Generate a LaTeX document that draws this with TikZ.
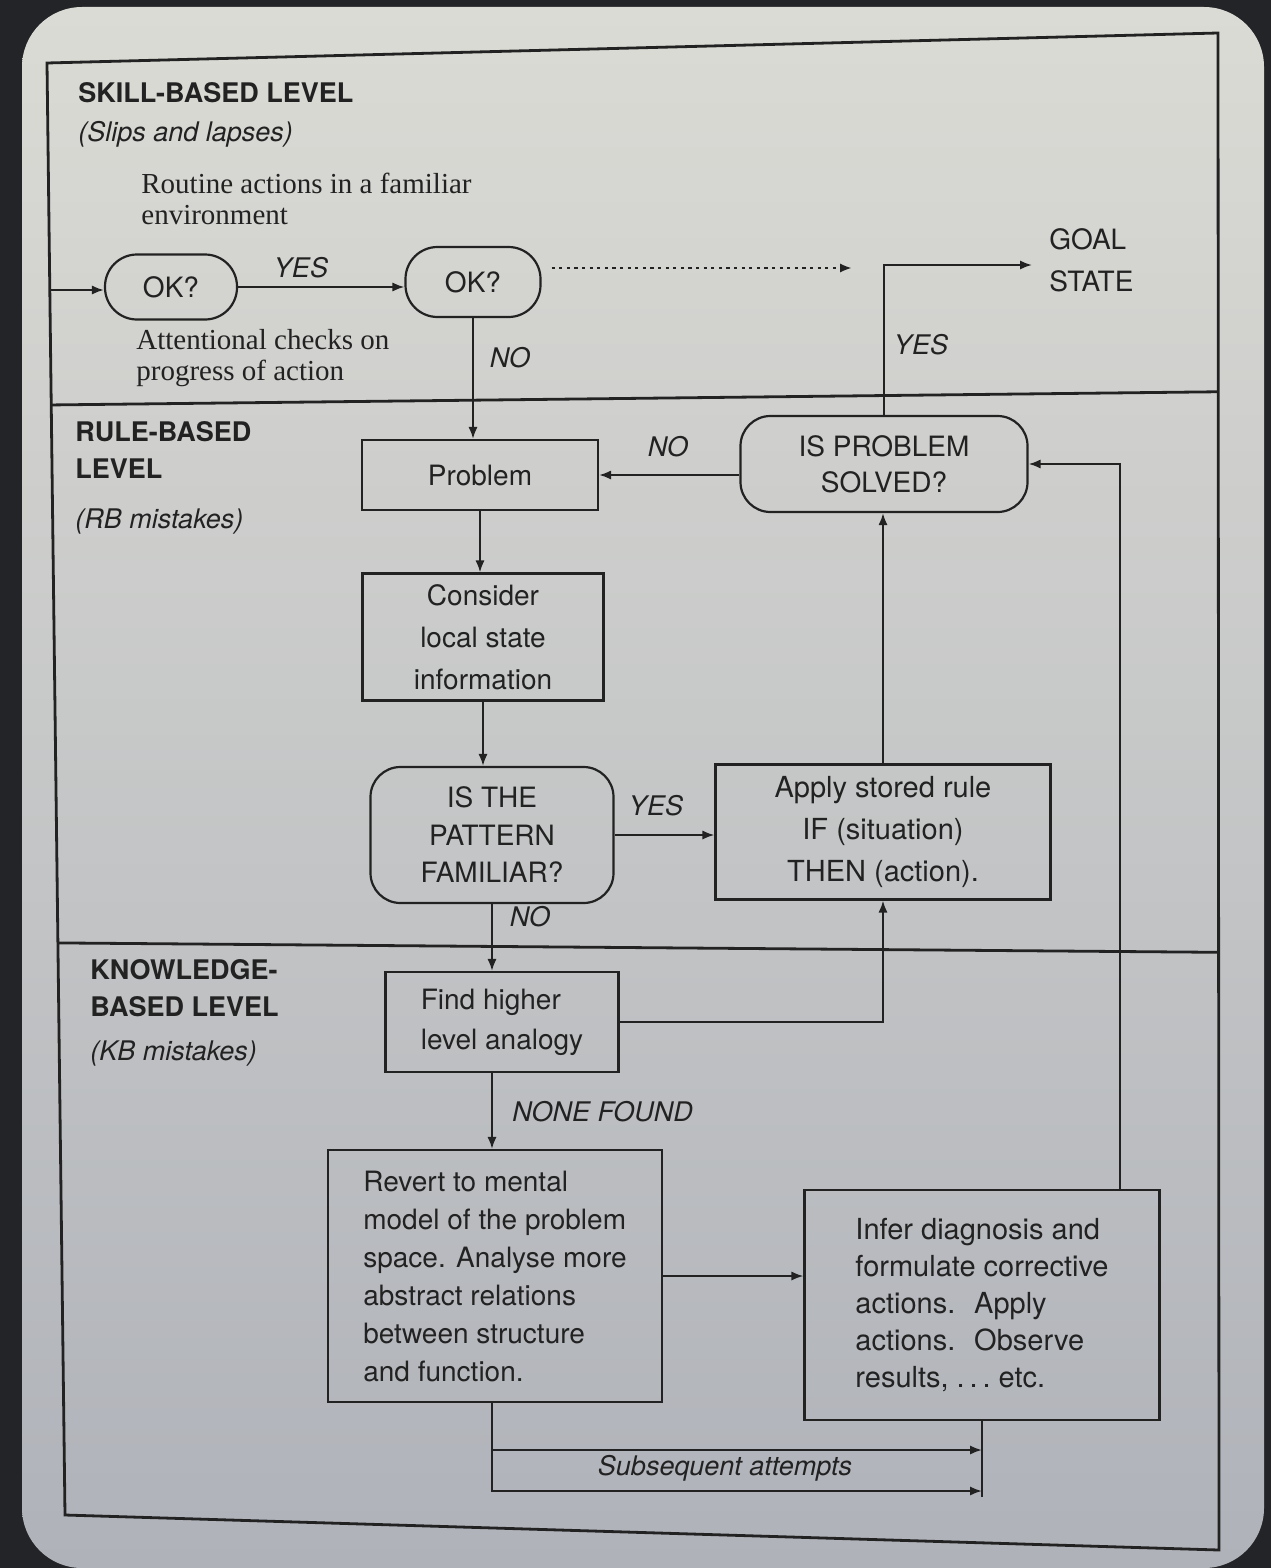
\documentclass[tikz,border=0pt]{standalone}
\usepackage{fontspec}
\setmainfont{TeX Gyre Heros}
\newfontfamily\bookfont{Liberation Serif}
\usetikzlibrary{arrows.meta,positioning,calc}
\definecolor{ink}{HTML}{222222}
\definecolor{desk}{HTML}{232427}
\definecolor{pagetop}{HTML}{DBDBD5}
\definecolor{pagebot}{HTML}{AFB2B9}

\tikzset{
    frame/.style={draw=ink, line width=1.4pt},
    box/.style={draw=ink, line width=1.1pt, rectangle, inner sep=0pt, align=center, text=ink,
                font=\fontsize{14}{19}\selectfont},
    askbox/.style={box, rounded corners=15pt},
    lvl/.style={anchor=north west, inner sep=0pt, align=left, text=ink,
                font=\fontsize{13.5}{18.5}\selectfont\bfseries},
    note/.style={anchor=north west, inner sep=0pt, text=ink,
                font=\fontsize{13.5}{18}\selectfont\itshape},
    tag/.style={inner sep=0pt, text=ink, font=\fontsize{13.5}{16}\selectfont\itshape},
    book/.style={anchor=north west, inner sep=0pt, align=left, text=ink,
                font=\fontsize{14.5}{15.5}\selectfont\bookfont},
    flow/.style={draw=ink, line width=1pt, -{Latex[length=6pt,width=4.6pt]}},
    link/.style={draw=ink, line width=1pt}
}

\begin{document}
\begin{tikzpicture}[x=0.5pt, y=-0.5pt]
    % Photo backdrop and page
    \useasboundingbox (0,0) rectangle (1271,1568);
    \fill[desk] (0,0) rectangle (1271,1568);
    \shade[top color=pagetop, bottom color=pagebot, rounded corners=30pt] (22,7) rectangle (1264,1568);

    % Figure frame, a little skewed as on the page
    \coordinate (F1) at (47,63);
    \coordinate (F2) at (1218,33);
    \coordinate (F3) at (1219,1550);
    \coordinate (F4) at (65,1515);
    \pgfmathsetmacro{\cutone}{0.2355}
    \pgfmathsetmacro{\cuttwo}{0.606}
    \begin{scope}[frame]
        \draw (F1) -- (F2) -- (F3) -- (F4) -- cycle;
        \draw ($(F1)!\cutone!(F4)$) -- ($(F2)!0.2365!(F3)$);
        \draw ($(F1)!\cuttwo!(F4)$) -- ($(F2)!\cuttwo!(F3)$);
    \end{scope}

    % Level headings
    \node (skill) at (78,82) [lvl] {SKILL-BASED LEVEL};
    \node (slips) at (78,121) [note] {(Slips and lapses)};
    \node (rule) at (75,421) [lvl] {RULE-BASED\\LEVEL};
    \node (rbmis) at (75,508) [note] {(RB mistakes)};
    \node (know) at (90,959) [lvl] {KNOWLEDGE-\\BASED LEVEL};
    \node (kbmis) at (90,1040) [note] {(KB mistakes)};

    % Skill-based level
    \node (routine) at (141,173) [book] {Routine actions in a familiar\\environment};
    \node (ok1) at (171,287) [askbox, minimum width=66pt, minimum height=32.5pt, rounded corners=16pt] {OK?};
    \node (ok2) at (473,282) [askbox, minimum width=67.5pt, minimum height=35pt, rounded corners=16pt] {OK?};
    \node (attn) at (136,329) [book] {Attentional checks on\\progress of action};
    \node (goalst) at (1049,228) [anchor=north west, inner sep=0pt, align=left, text=ink,
        font=\fontsize{14}{21}\selectfont] {GOAL\\STATE};

    % Rule-based level
    \node (prob) at (480,475) [box, minimum width=118pt, minimum height=35pt] {Problem};
    \node (solved) at (884,464) [askbox, minimum width=143.5pt, minimum height=48pt,
        font=\fontsize{14}{18}\selectfont] {IS PROBLEM\\SOLVED?};
    \node (consider) at (483,637) [box, minimum width=120.5pt, minimum height=63.5pt,
        font=\fontsize{14}{21}\selectfont] {Consider\\local state\\information};
    \node (pattern) at (492,835) [askbox, minimum width=121.5pt, minimum height=68pt,
        font=\fontsize{14}{18.75}\selectfont] {IS THE\\PATTERN\\FAMILIAR?};
    \node (apply) at (883,832) [box, minimum width=167.5pt, minimum height=67.5pt,
        font=\fontsize{14.5}{21}\selectfont] {Apply stored rule\\IF (situation)\\THEN (action).};

    % Knowledge-based level
    \node (find) at (502,1022) [box, align=left, minimum width=116.5pt, minimum height=50pt,
        font=\fontsize{14}{20}\selectfont] {Find higher\\level analogy};
    \node (revert) at (495,1276) [box, align=left, minimum width=167pt, minimum height=126pt]
        {Revert to mental\\model of the problem\\space. Analyse more\\abstract relations\\between structure\\and function.};
    \node (infer) at (982,1305) [box, align=left, minimum width=177.5pt, minimum height=115pt,
        font=\fontsize{14.5}{18.5}\selectfont]
        {Infer diagnosis and\\formulate corrective\\actions.~ Apply\\actions.~ Observe\\results, .\,.\,.\ etc.};

    % Free ends of connectors
    \coordinate (entry) at (49,290);
    \coordinate (dotend) at (852,268);
    \coordinate (goal) at (1032,265);
    \coordinate (fb) at (1120,0);
    \coordinate (lp1) at (0,1450);
    \coordinate (lp2) at (0,1491);

    % Connectors
    \draw[flow] (entry) -- (entry -| ok1.west);
    \draw[flow] (ok1.east) -- (ok1.east -| ok2.west);
    \draw[flow, line width=1.2pt, dash pattern=on 1.6pt off 2.2pt] ($(ok2.east |- dotend)+(10,0)$) -- (dotend);
    \draw[flow] (ok2.south) -- (ok2.south |- prob.north);
    \draw[flow] (solved.north) |- (goal);
    \draw[flow] (solved.west |- prob.east) -- (prob.east);
    \draw[flow] (prob.south) -- (prob.south |- consider.north);
    \draw[flow] (consider.south) -- (consider.south |- pattern.north);
    \draw[flow] (pattern.east) -- (pattern.east -| apply.west);
    \draw[flow] (apply.north) -- (apply.north |- solved.south);
    \draw[flow] (pattern.south) -- (pattern.south |- find.north);
    \draw[flow] (find.east) -| (apply.south);
    \draw[flow] (find.south -| pattern.south) -- (revert.north -| pattern.south);
    \draw[flow] (revert.east) -- (revert.east -| infer.west);
    \draw[flow] (infer.north -| fb) |- (solved.east);
    \draw[flow] (revert.south -| pattern.south) |- (infer.south |- lp2);
    \draw[flow] (pattern.south |- lp1) -- (infer.south |- lp1);
    \draw[link] (infer.south) -- ($(infer.south |- lp2)+(0,6)$);

    % Connector labels
    \node (yes1) at (301,268) [tag] {YES};
    \node (no1) at (510,358) [tag] {NO};
    \node (yes2) at (921,345) [tag] {YES};
    \node (no2) at (668,447) [tag] {NO};
    \node (yes3) at (656,806) [tag] {YES};
    \node (no3) at (530,917) [tag] {NO};
    \node (nonef) at (512,1112) [tag, anchor=west] {NONE FOUND};
    \node (subseq) at (725,1468) [tag] {Subsequent attempts};
\end{tikzpicture}
\end{document}
